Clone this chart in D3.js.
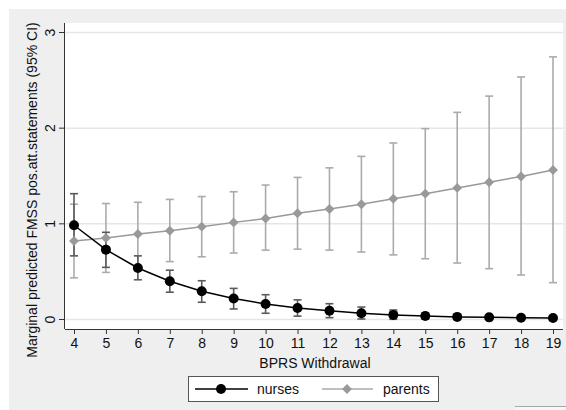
<!DOCTYPE html>
<html><head><meta charset="utf-8">
<script src="https://cdn.jsdelivr.net/npm/d3@7"></script>
<style>body{margin:0;background:#fff}svg{display:block}text{font-family:"Liberation Sans",Arial,sans-serif}</style>
</head><body><svg id="c" width="566" height="410"></svg>
<script>
const xValues = [4,5,6,7,8,9,10,11,12,13,14,15,16,17,18,19];
const nursesMean  = [0.98,0.725,0.533,0.394,0.29,0.215,0.157,0.115,0.087,0.06,0.043,0.031,0.022,0.017,0.013,0.01];
const nursesLower = [0.66,0.54,0.41,0.28,0.175,0.105,0.06,0.03,0.014,0.0,-0.003,0.0,0.0,0.0,0.0,0.0];
const nursesUpper = [1.31,0.906,0.66,0.51,0.40,0.32,0.254,0.20,0.16,0.125,0.094,0.065,0.045,0.035,0.028,0.022];
const parentsMean  = [0.815,0.847,0.888,0.923,0.965,1.01,1.05,1.105,1.15,1.20,1.257,1.31,1.37,1.43,1.49,1.557];
const parentsLower = [0.43,0.487,0.55,0.60,0.65,0.69,0.72,0.73,0.72,0.70,0.67,0.63,0.585,0.526,0.46,0.38];
const parentsUpper = [1.20,1.207,1.22,1.25,1.28,1.33,1.40,1.48,1.58,1.70,1.84,1.99,2.16,2.33,2.53,2.74];
const yTicks = [0,1,2,3];
const seriesNames = ["nurses","parents"];

const svg = d3.select("#c");
// outer background
svg.append("rect").attr("x",9).attr("y",9).attr("width",557).attr("height",401).attr("fill","#efefef");
const L=65, R=563, T=23, B=329;
svg.append("rect").attr("x",L).attr("y",T).attr("width",R-L).attr("height",B-T).attr("fill","#fff");

const x = d3.scaleLinear().domain([4,19]).range([74,553]);
const y = d3.scaleLinear().domain([0,3]).range([319,32]);

// gridlines
svg.append("g").selectAll("line").data(yTicks).join("line")
  .attr("x1",L).attr("x2",R).attr("y1",d=>y(d)+0.5).attr("y2",d=>y(d)+0.5)
  .attr("stroke","#e6e6e6").attr("stroke-width",1.5);

// axes
const ax = svg.append("g").attr("transform",`translate(0,${B})`)
  .call(d3.axisBottom(x).tickValues(xValues).tickFormat(d3.format("d")).tickSize(5).tickPadding(4).tickSizeOuter(0));
ax.select(".domain").attr("d",`M${L},0.5H${R}`).attr("stroke","#333");
ax.selectAll(".tick line").attr("stroke","#333");
ax.selectAll("text").attr("font-size",14).attr("fill","#111");

const ay = svg.append("g").attr("transform",`translate(${L},0)`)
  .call(d3.axisLeft(y).tickValues(yTicks).tickSize(6).tickSizeOuter(0).tickFormat(d3.format("d")));
ay.select(".domain").attr("d",`M-0.5,${T}V${B}`).attr("stroke","#333");
ay.selectAll(".tick line").attr("stroke","#333");
ay.selectAll(".tick text").attr("font-size",14).attr("fill","#111")
  .attr("x",0).attr("dy",null).attr("text-anchor","middle")
  .attr("transform","translate(-15,0) rotate(-90)").attr("dominant-baseline","central");

// titles
svg.append("text").attr("x",(L+R)/2+1).attr("y",368).attr("text-anchor","middle")
  .attr("font-size",14).attr("fill","#111").text("BPRS Withdrawal");
svg.append("text").attr("transform","translate(32,190) rotate(-90)").attr("text-anchor","middle")
  .attr("dominant-baseline","central").attr("font-size",14).attr("fill","#111")
  .text("Marginal predicted FMSS pos.att.statements (95% CI)");

function drawCI(lo, hi, color){
  const g = svg.append("g").attr("stroke",color).attr("stroke-width",1.6).attr("fill","none");
  xValues.forEach((v,i)=>{
    const xv=x(v), y1=y(Math.max(lo[i],-0.02)), y2=y(hi[i]);
    g.append("line").attr("x1",xv).attr("x2",xv).attr("y1",y1).attr("y2",y2);
    g.append("line").attr("x1",xv-4).attr("x2",xv+4).attr("y1",y1).attr("y2",y1);
    g.append("line").attr("x1",xv-4).attr("x2",xv+4).attr("y1",y2).attr("y2",y2);
  });
}
drawCI(parentsLower, parentsUpper, "#ababab");
drawCI(nursesLower, nursesUpper, "#5a5a5a");

const line = d3.line().x(d=>x(d[0])).y(d=>y(d[1]));
const diamond = d3.symbol().type(d3.symbolDiamond2).size(62);
// parents
svg.append("path").datum(xValues.map((v,i)=>[v,parentsMean[i]])).attr("d",line)
  .attr("fill","none").attr("stroke","#999").attr("stroke-width",1.5);
svg.append("g").selectAll("path").data(xValues.map((v,i)=>[v,parentsMean[i]])).join("path")
  .attr("d",diamond).attr("transform",d=>`translate(${x(d[0])},${y(d[1])})`).attr("fill","#999");
// nurses
svg.append("path").datum(xValues.map((v,i)=>[v,nursesMean[i]])).attr("d",line)
  .attr("fill","none").attr("stroke","#000").attr("stroke-width",1.5);
svg.append("g").selectAll("circle").data(xValues.map((v,i)=>[v,nursesMean[i]])).join("circle")
  .attr("cx",d=>x(d[0])).attr("cy",d=>y(d[1])).attr("r",5).attr("fill","#000");

// legend
const lg = svg.append("g");
lg.append("rect").attr("x",188.5).attr("y",376.5).attr("width",250).attr("height",25)
  .attr("fill","#fff").attr("stroke","#555").attr("stroke-width",1);
const ly=389;
lg.append("line").attr("x1",195).attr("x2",248).attr("y1",ly).attr("y2",ly).attr("stroke","#000").attr("stroke-width",1.5);
lg.append("circle").attr("cx",221).attr("cy",ly).attr("r",5).attr("fill","#000");
lg.append("text").attr("x",257).attr("y",ly).attr("dominant-baseline","central").attr("font-size",14).attr("fill","#111").text(seriesNames[0]);
lg.append("line").attr("x1",322).attr("x2",373).attr("y1",ly).attr("y2",ly).attr("stroke","#aaa").attr("stroke-width",1.5);
lg.append("path").attr("d",diamond).attr("transform",`translate(347,${ly})`).attr("fill","#999");
lg.append("text").attr("x",383).attr("y",ly).attr("dominant-baseline","central").attr("font-size",14).attr("fill","#111").text(seriesNames[1]);

// bottom-right artifact
svg.append("line").attr("x1",515).attr("x2",566).attr("y1",406.5).attr("y2",406.5).attr("stroke","#a8a8a8");
svg.append("rect").attr("x",515).attr("y",407).attr("width",51).attr("height",3).attr("fill","#f7f7f7");
</script></body></html>
